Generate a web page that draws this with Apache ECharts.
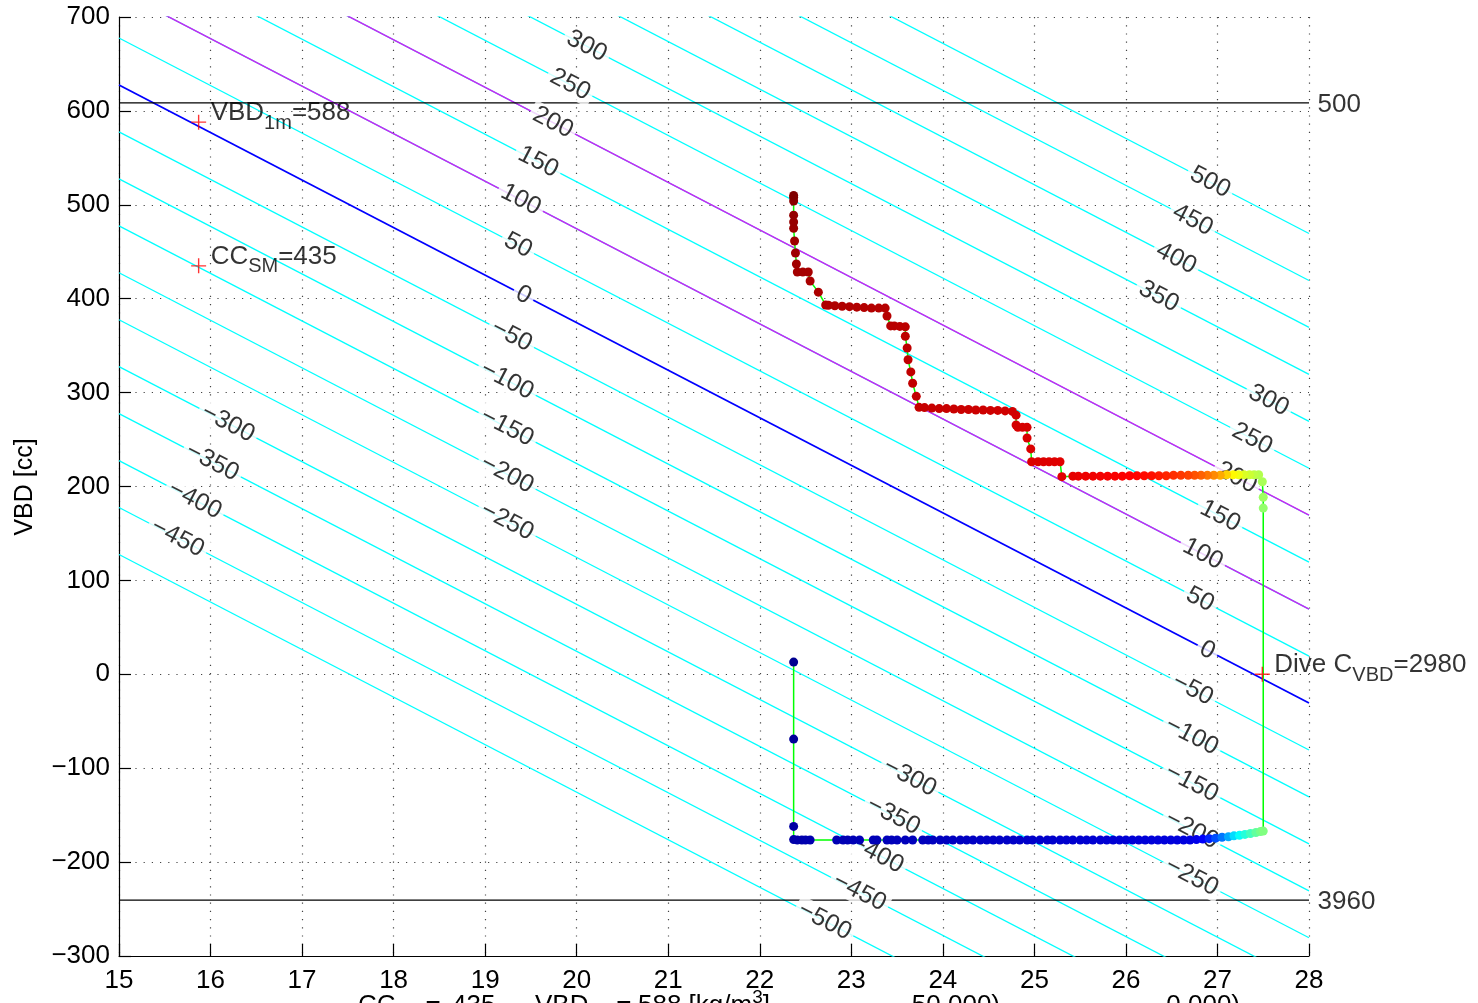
<!DOCTYPE html>
<html><head><meta charset="utf-8">
<script src="https://cdn.jsdelivr.net/npm/echarts@6.0.0/dist/echarts.min.js"></script>
<style>html,body{margin:0;padding:0;background:#fff;overflow:hidden}#c{width:1478px;height:1003px}</style>
</head><body><div id="c"></div>
<script>
// ---------- data ----------
const xMin = 15, xMax = 28, xStep = 1;
const yMin = -300, yMax = 700, yStep = 100;
const yAxisName = 'VBD [cc]';

// contour levels (g) ; the 0 contour passes through these two points
const contourLevels = [-500,-450,-400,-350,-300,-250,-200,-150,-100,-50,0,50,100,150,200,250,300,350,400,450,500];
const zeroLineCC  = [15, 28];
const zeroLineVBD = [627.6, -30.6];
const magentaLevels = [100, 200];

// contour label placement (level, CC position along the contour)
const labelLevels = [300,250,200,150,100,50,0,-50,-100,-150,-200,-250,
                     -300,-350,-400,-450,
                     500,450,400,350,
                     300,250,200,150,100,50,0,-50,-100,-150,-200,-250,
                     -300,-350,-400,-450,-500];
const labelCC = [20.11,19.93,19.74,19.58,19.39,19.36,19.42,19.29,19.24,19.24,19.24,19.24,
                 16.19,16.02,15.83,15.64,
                 26.92,26.73,26.55,26.36,
                 27.56,27.38,27.21,27.03,26.84,26.81,26.89,26.73,26.72,26.72,26.72,26.72,
                 23.64,23.46,23.28,23.09,22.71];

// VBD limit lines and their A/D labels
const limitVBD = [608.5, -240.4];
const limitText = ['500', '3960'];

// reference markers
const markerCC  = [15.87, 15.87, 27.49];
const markerVBD = [588, 435, 0];
const markerMain = [['VBD','=588'], ['CC','=435'], ['Dive C','=2980']];
const markerSub  = ['1m', 'SM', 'VBD'];

// bottom (cut-off) x label fragments: [main, sub, main2, sup, main3]
const xLabelPieces = [
  ['CC', 'SM', '=', '', ''],
  ['435,', '', '', '', ''],
  ['VBD', '1m', '=', '', ''],
  ['588 [kg/m', '', '', '3', ']'],
  ['50.000)', '', '', '', ''],
  ['0.000)', '', '', '', '']
];

// dive trajectory, in time order; trajC = colour (time) value 0..1
const trajCC = [
 22.37,22.37,22.37,22.37,22.41,22.46,22.50,22.55,
 22.84,22.91,22.96,23.02,23.09,23.24,23.28,23.39,23.44,23.50,23.59,23.67,23.78,23.84,23.89,23.97,
 24.04,24.11,24.19,24.26,24.33,24.41,24.48,24.55,24.62,24.70,24.77,24.84,24.92,24.98,
 25.06,25.14,25.20,25.28,25.35,25.42,25.50,25.57,25.64,25.72,25.79,25.86,25.93,
 26.00,26.07,26.14,26.21,26.28,26.35,26.42,26.49,26.56,26.63,26.70,26.77,26.84,26.91,26.98,
 27.05,27.12,27.18,27.24,27.30,27.36,27.42,27.47,
 27.50,27.50,27.50,27.49,
 27.45,27.40,27.35,27.29,27.23,27.17,27.10,27.03,26.96,26.89,26.82,26.75,26.68,26.60,26.52,26.44,
 26.36,26.28,26.20,26.12,26.04,25.96,25.88,25.80,25.72,25.64,25.56,25.48,25.42,25.30,
 25.28,25.22,25.16,25.10,25.04,24.97,24.96,24.92,24.92,24.87,24.82,24.80,24.80,
 24.76,24.68,24.60,24.52,24.44,24.36,24.28,24.20,24.12,24.04,23.96,23.88,23.80,23.74,
 23.71,23.67,23.65,23.62,23.61,23.59,23.59,23.53,23.47,23.43,23.39,
 23.37,23.30,23.22,23.14,23.06,22.98,22.90,22.82,22.75,22.72,
 22.64,22.55,22.53,22.47,22.41,22.40,22.39,22.38,22.37,22.37,22.37,22.37,22.37,22.37
];
const trajVBD = [
 13,-69,-162,-176,-176.5,-176.5,-176.5,-176.5,
 -176.5,-176.5,-176.5,-176.5,-176.5,-176.5,-176.5,-176.5,-176.5,-176.5,-176.5,-176.5,-176.5,-176.5,-176.5,-176.5,
 -176.5,-176.5,-176.5,-176.5,-176.5,-176.5,-176.5,-176.5,-176.5,-176.5,-176.5,-176.5,-176.5,-176.5,
 -176.5,-176.5,-176.5,-176.5,-176.5,-176.5,-176.5,-176.5,-176.5,-176.5,-176.5,-176.5,-176.5,
 -176.5,-176.5,-176.5,-176.5,-176.5,-176.5,-176.5,-176.5,-176.5,-176.5,-176.5,-176,-175.5,-175,-174.5,
 -173.5,-173,-172,-171.5,-170.5,-169.5,-168.5,-167.5,
 -167,177,188.5,205,
 212.5,212.5,212.5,212.5,212.5,212.5,212.5,212,212,212,212,212,212,212,212,211.5,
 211.5,211.5,211.5,211.5,211.5,211,211,211,211,211,211,211,211,210.5,
 226.4,226.4,226.4,226.4,226.4,226.4,240,251.6,263,263,263,265.5,276,
 280,280.5,281,281,281.5,281.5,282,282,282.5,283,283,283.5,284,284.3,
 296,310,322,335,347.5,360,370,370.5,371,371,381.6,
 390,390,390,390.5,391,391.5,392,392.5,393,393.3,
 407,418.8,428.4,428.4,428.4,437,448.7,461.4,475,481.7,489,504,508,510
];
const trajC = [
 0.00,0.01,0.02,0.025,0.03,0.03,0.035,0.035,
 0.04,0.04,0.04,0.042,0.042,0.044,0.044,0.046,0.046,0.048,0.048,0.05,0.05,0.05,0.052,0.052,
 0.053,0.054,0.055,0.056,0.057,0.058,0.059,0.06,0.06,0.061,0.062,0.063,0.064,0.065,
 0.066,0.067,0.068,0.069,0.07,0.07,0.071,0.072,0.073,0.074,0.075,0.076,0.077,
 0.078,0.079,0.08,0.081,0.082,0.083,0.084,0.085,0.086,0.088,0.09,0.10,0.12,0.16,0.20,
 0.24,0.29,0.34,0.38,0.41,0.44,0.47,0.49,
 0.50,0.52,0.53,0.54,
 0.55,0.56,0.575,0.59,0.61,0.63,0.67,0.71,0.74,0.76,0.78,0.795,0.81,0.82,0.83,0.84,
 0.85,0.86,0.865,0.87,0.875,0.878,0.881,0.884,0.887,0.89,0.893,0.896,0.90,0.905,
 0.905,0.906,0.907,0.908,0.909,0.91,0.91,0.912,0.915,0.915,0.915,0.917,0.918,
 0.92,0.921,0.922,0.923,0.924,0.925,0.926,0.927,0.928,0.929,0.93,0.93,0.931,0.932,
 0.935,0.936,0.937,0.938,0.939,0.94,0.942,0.943,0.944,0.945,0.947,
 0.948,0.949,0.95,0.95,0.951,0.952,0.953,0.954,0.955,0.955,
 0.957,0.96,0.962,0.963,0.965,0.967,0.97,0.972,0.975,0.977,0.98,0.99,0.995,1.0
];

// ---------- chart ----------
const FONT = 'Liberation Sans, Arial, Helvetica, sans-serif';
const jet = ['#000090','#0000ff','#0080ff','#00ffff','#80ff80','#ffff00','#ff8000','#ff0000','#800000'];

function zeroVBD(cc) {
  return zeroLineVBD[0] + (cc - zeroLineCC[0]) * (zeroLineVBD[1] - zeroLineVBD[0]) / (zeroLineCC[1] - zeroLineCC[0]);
}
function fmtNum(v) { return v < 0 ? '\u2212' + Math.abs(v) : String(v); }

const series = [];

contourLevels.forEach(L => {
  series.push({
    type: 'line', silent: true, symbol: 'none', clip: true, z: 1, animation: false,
    lineStyle: { color: L === 0 ? '#0000ff' : '#00ffff', width: L === 0 ? 1.8 : 1.3 },
    data: [[zeroLineCC[0], zeroLineVBD[0] + L], [zeroLineCC[1], zeroLineVBD[1] + L]]
  });
});
magentaLevels.forEach(L => {
  series.push({
    type: 'line', silent: true, symbol: 'none', clip: true, z: 2, animation: false,
    lineStyle: { color: '#d11ff0', width: 1.4 },
    data: [[zeroLineCC[0], zeroLineVBD[0] + L], [zeroLineCC[1], zeroLineVBD[1] + L]]
  });
});
limitVBD.forEach((v, i) => {
  series.push({
    type: 'line', silent: true, symbol: 'none', clip: true, z: 2, animation: false,
    lineStyle: { color: '#000', width: 1.2 },
    data: [[xMin, v], [xMax, v]]
  });
  series.push({
    type: 'scatter', silent: true, z: 2, animation: false, clip: false,
    symbolSize: 1, itemStyle: { color: 'rgba(0,0,0,0)' },
    label: { show: true, position: 'right', distance: 8, formatter: limitText[i],
             fontFamily: FONT, fontSize: 26, color: '#000', offset: [0, 2] },
    data: [[xMax, v]]
  });
});

// trajectory
series.push({
  type: 'line', silent: true, symbol: 'none', z: 4, animation: false,
  lineStyle: { color: '#00ff00', width: 1.5 },
  data: trajCC.map((c, i) => [c, trajVBD[i]])
});
const trajIndex = series.length;
series.push({
  type: 'scatter', silent: true, z: 5, animation: false, symbolSize: 9,
  itemStyle: { opacity: 1 },
  data: trajCC.map((c, i) => [c, trajVBD[i], trajC[i]])
});

// markers
series.push({
  type: 'scatter', silent: true, z: 6, animation: false, clip: false,
  symbol: 'path://M10,0 L10,20 M0,10 L20,10', symbolSize: 15,
  itemStyle: { color: 'none', borderColor: '#ff0000', borderWidth: 1.4 },
  label: {
    show: true, position: 'right', distance: 2, offset: [0, -9],
    formatter: p => '{m|' + markerMain[p.dataIndex][0] + '}{s|' + markerSub[p.dataIndex] + '}{m|' + markerMain[p.dataIndex][1] + '}',
    rich: {
      m: { fontFamily: FONT, fontSize: 26, color: '#000', lineHeight: 40, verticalAlign: 'middle' },
      s: { fontFamily: FONT, fontSize: 20, color: '#000', lineHeight: 20, verticalAlign: 'bottom' }
    }
  },
  data: markerCC.map((c, i) => [c, markerVBD[i]])
});

const chart = echarts.init(document.getElementById('c'), null, { renderer: 'canvas' });
const gridPos = { left: 119, right: 169, top: 17, bottom: 47 };

// x positions where the cut-off x-label pieces start / end (pixels of the reference layout)
const xLabelAnchor = [[358, 'left'], [452, 'left'], [535, 'left'], [638, 'left'], [1000, 'right'], [1240, 'right']];

function xLabelGraphics() {
  return xLabelPieces.map((pc, i) => {
    let t = '{m|' + pc[0] + '}';
    if (pc[1]) t += '{s|' + pc[1] + '}';
    if (pc[2]) t += '{m|' + pc[2] + '}';
    if (pc[3]) t += '{u|' + pc[3] + '}';
    if (pc[4]) t += '{m|' + pc[4] + '}';
    return {
      type: 'text', x: xLabelAnchor[i][0], y: 988, silent: true,
      style: {
        text: t, align: xLabelAnchor[i][1], verticalAlign: 'top',
        rich: {
          m: { fontFamily: FONT, fontSize: 26, fill: '#000', lineHeight: 36, verticalAlign: 'middle' },
          s: { fontFamily: FONT, fontSize: 20, fill: '#000', lineHeight: 20, verticalAlign: 'bottom' },
          u: { fontFamily: FONT, fontSize: 19, fill: '#000', lineHeight: 19, verticalAlign: 'top' }
        }
      }
    };
  });
}

function buildOption(angleDeg) {
  const labelSeries = {
    type: 'scatter', silent: true, z: 3, animation: false,
    symbolSize: 1, itemStyle: { color: 'rgba(0,0,0,0)' },
    label: {
      show: true, position: 'inside', rotate: -angleDeg,
      formatter: p => fmtNum(p.value[2]),
      fontFamily: FONT, fontSize: 25, color: '#000',
      backgroundColor: '#fff', padding: [0, 4]
    },
    data: labelCC.map((c, i) => [c, zeroVBD(c) + labelLevels[i], labelLevels[i]])
  };
  return {
    backgroundColor: '#fff',
    animation: false,
    grid: Object.assign({ containLabel: false, outerBoundsMode: 'none' }, gridPos),
    xAxis: {
      type: 'value', min: xMin, max: xMax, interval: xStep,
      axisLine: { show: true, onZero: false, lineStyle: { color: '#000', width: 1.2 } },
      axisTick: { show: true, inside: true, length: 12, lineStyle: { color: '#000', width: 1.2 } },
      axisLabel: { show: true, margin: 12, fontFamily: FONT, fontSize: 26, color: '#000',
                   showMinLabel: true, showMaxLabel: true, hideOverlap: false },
      splitLine: { show: true, lineStyle: { color: '#444', width: 1.2, type: [1.2, 7] } }
    },
    yAxis: {
      type: 'value', min: yMin, max: yMax, interval: yStep,
      axisLine: { show: true, onZero: false, lineStyle: { color: '#000', width: 1.2 } },
      axisTick: { show: true, inside: true, length: 12, lineStyle: { color: '#000', width: 1.2 } },
      axisLabel: { show: true, margin: 9, fontFamily: FONT, fontSize: 26, color: '#000',
                   formatter: v => fmtNum(v), showMinLabel: true, showMaxLabel: true, hideOverlap: false },
      splitLine: { show: true, lineStyle: { color: '#444', width: 1.2, type: [1.2, 7] } }
    },
    visualMap: {
      show: false, type: 'continuous', seriesIndex: trajIndex, dimension: 2,
      min: 0, max: 1, inRange: { color: jet }
    },
    graphic: [{
      type: 'text', x: 25, y: 487, rotation: Math.PI / 2, silent: true,
      style: { text: yAxisName, font: '25px ' + FONT, fill: '#000',
               align: 'center', verticalAlign: 'middle', textAlign: 'center', textVerticalAlign: 'middle' }
    }].concat(xLabelGraphics()),
    series: series.concat([labelSeries])
  };
}

chart.setOption(buildOption(27.4));
// contour label angle from the library's own scale
const p0 = chart.convertToPixel({ gridIndex: 0 }, [zeroLineCC[0], zeroLineVBD[0]]);
const p1 = chart.convertToPixel({ gridIndex: 0 }, [zeroLineCC[1], zeroLineVBD[1]]);
const ang = Math.atan2(p1[1] - p0[1], p1[0] - p0[0]) * 180 / Math.PI;
chart.setOption(buildOption(ang), { notMerge: true });
</script>
</body></html>
